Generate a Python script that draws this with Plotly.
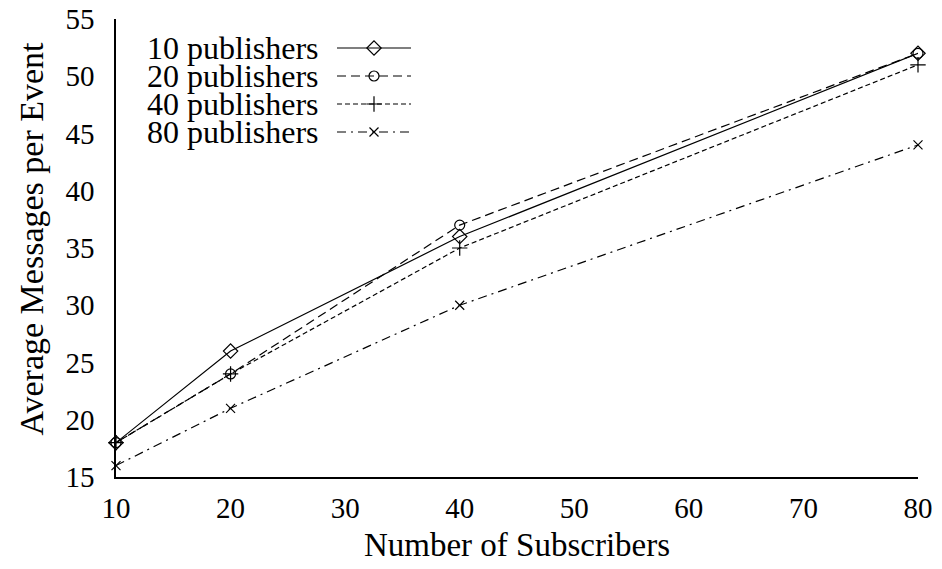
import plotly.graph_objects as go

subscribers = [10, 20, 40, 80]
series_names = ["10 publishers", "20 publishers", "40 publishers", "80 publishers"]
pub10 = [18, 26, 36, 52]
pub20 = [18, 24, 37, 52]
pub40 = [18, 24, 35, 51]
pub80 = [16, 21, 30, 44]
x_ticks = [10, 20, 30, 40, 50, 60, 70, 80]
y_ticks = [15, 20, 25, 30, 35, 40, 45, 50, 55]

values = [pub10, pub20, pub40, pub80]
dashes = ["solid", "9px,5px", "5px,3px", "9px,5px,2px,5px"]
symbols = ["diamond-open", "circle-open", "cross-thin-open", "x-thin-open"]
msizes = [11, 10, 11, 9]

FONT = "Liberation Serif"
W, H = 942, 569
L, R, T, B = 116, 24, 19, 92
PW, PH = W - L - R, H - T - B

fig = go.Figure()
for name, vals, d, s, ms in zip(series_names, values, dashes, symbols, msizes):
    fig.add_trace(go.Scatter(
        x=subscribers, y=vals, mode="lines+markers", name=name,
        line=dict(color="black", width=1.2, dash=d),
        marker=dict(symbol=s, size=ms, color="black", line=dict(color="black", width=1.2)),
        showlegend=False, cliponaxis=False,
    ))

# custom legend (text left, sample right) on a pixel-scaled overlay axis
row_y = [48, 76, 104, 132]
for name, d, s, ms, ry in zip(series_names, dashes, symbols, msizes, row_y):
    fig.add_trace(go.Scatter(
        x=[337, 411], y=[ry, ry], mode="lines", xaxis="x2", yaxis="y2",
        line=dict(color="black", width=1.2, dash=d), showlegend=False, hoverinfo="skip",
    ))
    fig.add_trace(go.Scatter(
        x=[374], y=[ry], mode="markers", xaxis="x2", yaxis="y2",
        marker=dict(symbol=s, size=ms, color="black", line=dict(color="black", width=1.2)),
        showlegend=False, hoverinfo="skip",
    ))

legend_text = "<br>".join(f'<span style="font-size:32px">{n}</span>' for n in series_names)
fig.add_annotation(x=321, y=(row_y[0] + row_y[-1]) / 2, xref="x2", yref="y2",
                   text=legend_text, showarrow=False, align="right",
                   xanchor="right", yanchor="middle",
                   font=dict(family=FONT, size=21.5, color="black"))

# y-axis title as annotation (placed slightly above the plot centre, as in the reference)
fig.add_annotation(x=(10 - L) / PW, y=(H - B - 239) / PH, xref="paper", yref="paper",
                   xanchor="left", yanchor="middle",
                   text="Average Messages per Event", textangle=-90, showarrow=False,
                   font=dict(family=FONT, size=34, color="black"))

fig.update_layout(
    width=W, height=H, margin=dict(l=L, r=R, t=T, b=B),
    paper_bgcolor="white", plot_bgcolor="white",
    font=dict(family=FONT, size=29, color="black"),
    xaxis=dict(range=[10, 80], tickvals=x_ticks, showgrid=False, zeroline=False,
               showline=True, linecolor="black", linewidth=1.5, ticks="",
               ticklabelstandoff=4, automargin=False,
               title=dict(text="Number of Subscribers", standoff=10,
                          font=dict(family=FONT, size=33))),
    yaxis=dict(range=[15, 55], tickvals=y_ticks, showgrid=False, zeroline=False,
               showline=True, linecolor="black", linewidth=1.5, ticks="",
               ticklabelstandoff=14, automargin=False),
    xaxis2=dict(range=[L, W - R], overlaying="x", visible=False, fixedrange=True),
    yaxis2=dict(range=[H - B, T], overlaying="y", visible=False, fixedrange=True),
    showlegend=False,
)

fig.write_html("out.html")
